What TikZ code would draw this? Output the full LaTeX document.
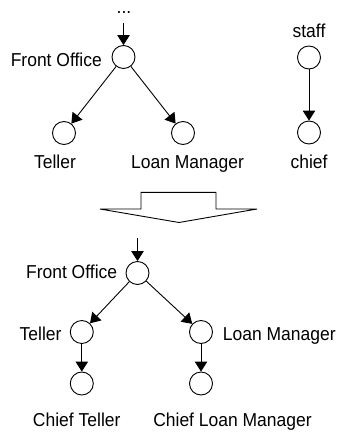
\documentclass[tikz,border=0pt]{standalone}
\usepackage{fontspec}
\setmainfont{Liberation Sans}[FakeStretch=0.935]
\usetikzlibrary{arrows.meta}
\begin{document}
\begin{tikzpicture}[x=1pt,y=-1pt,
  vertex/.style={circle,draw,line width=0.9pt,minimum size=23pt,inner sep=0pt},
  lbl/.style={inner sep=0pt,font=\fontsize{18.7}{21}\selectfont},
  edge/.style={line width=0.9pt,-{Triangle[length=10pt,width=12.5pt]}},
  bigarrow/.style={line width=0.9pt,line join=miter}]
\path[use as bounding box] (0,0) rectangle (342,434);

% upper hierarchy
\node[vertex] (fo1) at (123.5,57) {};
\node[vertex] (t1) at (64,133) {};
\node[vertex] (lm1) at (183,133) {};
\coordinate (in1) at (123.5,23);
\node[lbl,anchor=base] (dots) at (124,13) {...};
\node[lbl,anchor=base east] (fo1l) at (102,66.5) {Front Office};
\node[lbl,anchor=base] (t1l) at (55,168) {Teller};
\node[lbl,anchor=base] (lm1l) at (187.5,168) {Loan Manager};
\draw[edge] (in1) -- (fo1);
\draw[edge] (fo1) -- (t1);
\draw[edge] (fo1) -- (lm1);

% role pattern
\node[vertex] (staff) at (309,57.5) {};
\node[vertex] (chief) at (309,132.5) {};
\node[lbl,anchor=base] (staffl) at (309,37.3) {staff};
\node[lbl,anchor=base] (chiefl) at (309,168) {chief};
\draw[edge] (staff) -- (chief);

% hollow transformation arrow
\draw[bigarrow] (100,209) -- (141,209) -- (141,192.3) -- (216,192.3) -- (216,209)
  -- (257,209) -- (179,222.5) -- cycle;

% lower hierarchy
\node[vertex] (fo2) at (137.5,273) {};
\node[vertex] (t2) at (81.8,332) {};
\node[vertex] (lm2) at (201,332) {};
\node[vertex] (ct) at (81.8,383.5) {};
\node[vertex] (clm) at (201,383.5) {};
\coordinate (in2) at (137.5,238);
\node[lbl,anchor=base east] (fo2l) at (117.3,278.3) {Front Office};
\node[lbl,anchor=base east] (t2l) at (61.7,340) {Teller};
\node[lbl,anchor=base west] (lm2l) at (222.7,340) {Loan Manager};
\node[lbl,anchor=base] (ctl) at (76.7,426.7) {Chief Teller};
\node[lbl,anchor=base] (clml) at (232.5,426.7) {Chief Loan Manager};
\draw[edge] (in2) -- (fo2);
\draw[edge] (fo2) -- (t2);
\draw[edge] (fo2) -- (lm2);
\draw[edge] (t2) -- (ct);
\draw[edge] (lm2) -- (clm);
\end{tikzpicture}
\end{document}
